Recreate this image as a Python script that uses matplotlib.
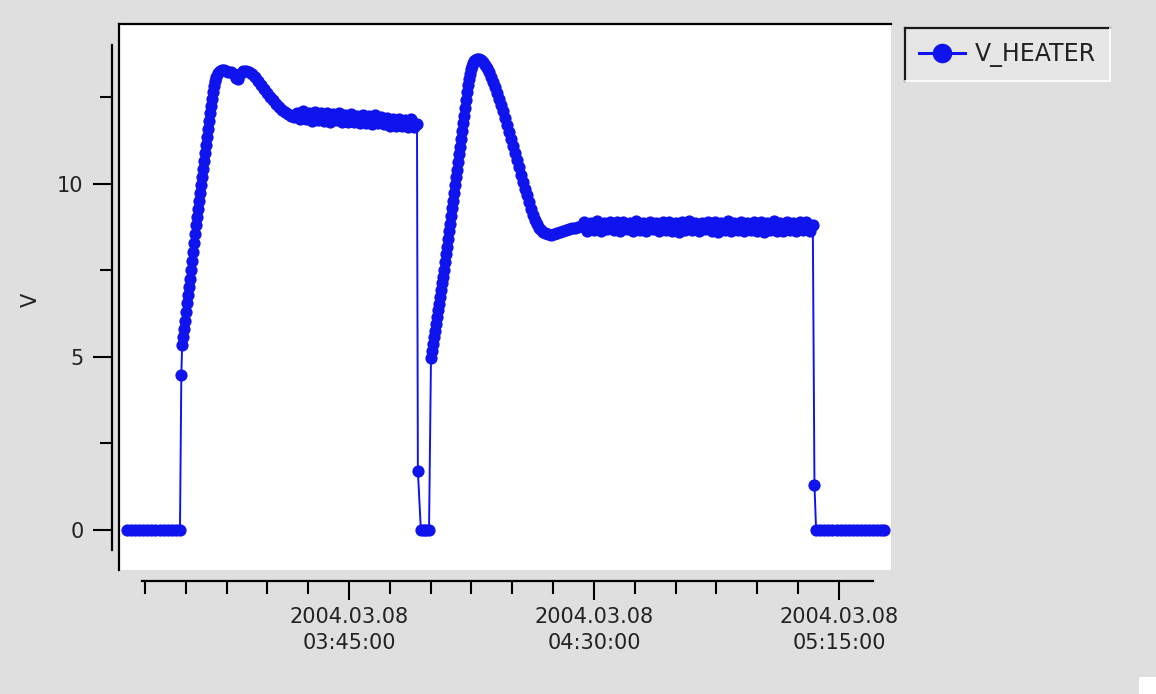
import numpy as np
import pandas as pd
import matplotlib
matplotlib.use('Agg')
import matplotlib.pyplot as plt
import matplotlib.dates as mdates
from matplotlib.lines import Line2D
from matplotlib.patches import Rectangle
from matplotlib.transforms import IdentityTransform

W, H = 1156, 694
DAY = '2004-03-08'
BLUE = '#0f14ee'

# minutes after 03:00 and heater voltage (V)
off1_min = [4.2, 4.95, 5.7, 6.45, 7.2, 7.95, 8.7, 9.45, 10.2, 10.95, 11.7, 12.45, 13.2, 13.95]
off1_v = [0, 0, 0, 0, 0, 0, 0, 0, 0, 0, 0, 0, 0, 0]

heat1_min = [14.2, 14.35, 14.51, 14.69, 14.87, 15.06, 15.24, 15.43, 15.61, 15.79, 15.98,
             16.16, 16.34, 16.53, 16.71, 16.89, 17.08, 17.26, 17.45, 17.63, 17.81,
             18.00, 18.18, 18.36, 18.55, 18.73, 18.91, 19.10, 19.28, 19.47, 19.65,
             19.83, 20.02, 20.20, 20.38, 20.57, 20.93,
             21.30, 21.67, 22.04, 22.41, 22.77, 23.33, 23.88, 24.24, 24.61, 24.98,
             25.53, 26.08, 26.63, 27.18, 27.73, 28.28, 28.84, 29.39, 29.94, 30.49,
             31.04, 31.59, 32.14, 32.69, 33.24, 33.80, 34.35, 34.90,
             35.45, 36.00, 36.55, 37.10, 37.65, 38.20, 38.75, 39.31, 39.86, 40.41,
             40.96, 41.51, 42.06, 42.61, 43.16, 43.71, 44.27, 44.82, 45.37, 45.92,
             46.47, 47.02, 47.57, 48.12, 48.67, 49.22, 49.78, 50.33, 50.88, 51.43,
             51.98, 52.53, 53.08, 53.63, 54.18, 54.74, 55.29, 55.84, 56.39, 56.94,
             57.49]
heat1_v = [4.48, 5.35, 5.58, 5.81, 6.04, 6.30, 6.56, 6.79, 7.02, 7.25, 7.51,
           7.77, 8.03, 8.29, 8.55, 8.82, 9.05, 9.28, 9.51, 9.74, 9.97,
           10.20, 10.43, 10.66, 10.90, 11.13, 11.36, 11.59, 11.82, 12.05, 12.25,
           12.46, 12.66, 12.83, 12.98, 13.09, 13.21,
           13.27, 13.29, 13.29, 13.27, 13.24, 13.24, 13.18, 13.06, 13.03, 13.18,
           13.27, 13.27, 13.24, 13.18, 13.09, 12.98, 12.86, 12.75, 12.63, 12.51,
           12.43, 12.31, 12.23, 12.14, 12.08, 12.02, 11.97, 11.94,
           12.06, 11.86, 12.10, 11.88, 12.04, 11.83, 12.09, 11.85, 12.05, 11.82,
           12.06, 11.80, 12.02, 11.84, 12.05, 11.79, 12.00, 11.78, 12.03, 11.80,
           11.97, 11.76, 12.00, 11.77, 11.95, 11.74, 11.98, 11.75, 11.93, 11.72,
           11.90, 11.68, 11.86, 11.66, 11.88, 11.66, 11.84, 11.63, 11.86, 11.64,
           11.72]

fall1_min = [57.65]
fall1_v = [1.71]

off2_min = [58.2, 58.7, 59.2, 59.7]
off2_v = [0, 0, 0, 0]

heat2_min = [60.06, 60.25, 60.43, 60.61, 60.80, 60.98, 61.16, 61.35, 61.53, 61.72,
             61.90, 62.08, 62.27, 62.45, 62.63, 62.82, 63.00, 63.19, 63.37, 63.55,
             63.74, 63.92, 64.10, 64.29, 64.47, 64.66, 64.84, 65.02, 65.21, 65.39,
             65.57, 65.76, 65.94, 66.12, 66.31, 66.49, 66.68, 66.86, 67.04, 67.23,
             67.41, 67.59, 67.78, 67.96, 68.14, 68.51,
             68.88, 69.25, 69.61, 69.98, 70.35, 70.72, 71.08, 71.45, 71.82, 72.19,
             72.55, 72.92, 73.29, 73.66, 74.02, 74.39, 74.76, 75.12, 75.49, 75.86,
             76.23, 76.59, 76.96, 77.33, 77.70, 78.06, 78.43, 78.80, 79.17, 79.53,
             79.90, 80.27, 80.64, 81.00, 81.55, 82.10, 82.65, 83.20, 83.76, 84.31,
             84.86, 85.41, 85.96, 86.51, 87.06, 87.62,
             88.2, 88.8, 89.4, 90.0, 90.6, 91.2, 91.8, 92.4, 93.0, 93.6,
             94.2, 94.8, 95.4, 96.0, 96.6, 97.2, 97.8, 98.4, 99.0, 99.6,
             100.2, 100.8, 101.4, 102.0, 102.6, 103.2, 103.8, 104.4, 105.0, 105.6,
             106.2, 106.8, 107.4, 108.0, 108.6, 109.2, 109.8, 110.4, 111.0, 111.6,
             112.2, 112.8, 113.4, 114.0, 114.6, 115.2, 115.8, 116.4, 117.0, 117.6,
             118.2, 118.8, 119.4, 120.0, 120.6, 121.2, 121.8, 122.4, 123.0, 123.6,
             124.2, 124.8, 125.4, 126.0, 126.6, 127.2, 127.8, 128.4, 129.0, 129.6,
             130.2]
heat2_v = [4.97, 5.17, 5.38, 5.58, 5.75, 5.95, 6.16, 6.36, 6.53, 6.73,
           6.94, 7.14, 7.31, 7.51, 7.75, 7.98, 8.18, 8.41, 8.64, 8.84,
           9.08, 9.31, 9.51, 9.74, 9.97, 10.20, 10.40, 10.64, 10.87, 11.07,
           11.30, 11.53, 11.76, 11.97, 12.20, 12.43, 12.66, 12.86, 13.03, 13.18,
           13.32, 13.41, 13.50, 13.55, 13.58, 13.61,
           13.61, 13.58, 13.53, 13.44, 13.35, 13.24, 13.09, 12.95, 12.80, 12.63,
           12.46, 12.28, 12.11, 11.91, 11.71, 11.50, 11.30, 11.10, 10.90, 10.69,
           10.49, 10.26, 10.06, 9.86, 9.68, 9.48, 9.28, 9.10, 8.96, 8.84,
           8.73, 8.67, 8.61, 8.58, 8.55, 8.53, 8.55, 8.58, 8.61, 8.64,
           8.67, 8.70, 8.73, 8.73, 8.76, 8.79,
           8.90, 8.65, 8.88, 8.68, 8.92, 8.64, 8.87, 8.70, 8.91, 8.66,
           8.89, 8.63, 8.90, 8.69, 8.86, 8.65, 8.92, 8.67, 8.88, 8.64,
           8.90, 8.70, 8.86, 8.63, 8.91, 8.67, 8.89, 8.65, 8.87, 8.62,
           8.90, 8.68, 8.93, 8.66, 8.88, 8.63, 8.86, 8.69, 8.91, 8.65,
           8.89, 8.62, 8.87, 8.67, 8.92, 8.64, 8.88, 8.66, 8.90, 8.63,
           8.86, 8.68, 8.91, 8.65, 8.89, 8.62, 8.87, 8.67, 8.92, 8.65,
           8.88, 8.64, 8.90, 8.66, 8.86, 8.63, 8.89, 8.68, 8.91, 8.65,
           8.80]

fall2_min = [130.5]
fall2_v = [1.30]

off3_min = [130.8, 131.55, 132.3, 133.05, 133.8, 134.55, 135.3, 136.05, 136.8,
            137.55, 138.3, 139.05, 139.8, 140.55, 141.3, 142.05, 142.8, 143.3]
off3_v = [0, 0, 0, 0, 0, 0, 0, 0, 0, 0, 0, 0, 0, 0, 0, 0, 0, 0]

x_major = ['03:45:00', '04:30:00', '05:15:00']
y_major = [0, 5, 10]
y_minor = [2.5, 7.5, 12.5]

base = pd.Timestamp(DAY + ' 03:00:00')


def at(minutes):
    return mdates.date2num(base + pd.to_timedelta(np.asarray(minutes, dtype=float), unit='m'))


minutes = np.concatenate([off1_min, heat1_min, fall1_min, off2_min,
                          heat2_min, fall2_min, off3_min])
volts = np.concatenate([off1_v, heat1_v, fall1_v, off2_v,
                        heat2_v, fall2_v, off3_v]).astype(float)

fig = plt.figure(figsize=(W / 100, H / 100), dpi=100, facecolor='#dfdfdf')
ax = fig.add_axes([119 / W, 1 - 570 / H, (891 - 119) / W, (570 - 24) / H])
ax.set_facecolor('white')

ax.plot(at(minutes), volts, color=BLUE, lw=1.4, marker='o', ms=8.8, mew=0,
        label='V_HEATER')

ax.set_xlim(at(2.75), at(144.56))
ax.set_ylim(-1.16, 14.62)

# frame: dark top / left edge of the white area, axes drawn detached
ax.spines['right'].set_visible(False)
ax.spines['top'].set_linewidth(1.6)
ax.add_line(Line2D([0, 0], [0, 1], transform=ax.transAxes, color='black',
                   lw=1.6, clip_on=False))
ax.spines['left'].set_position(('outward', 5))
ax.spines['left'].set_bounds(-0.58, 14.0)
ax.spines['left'].set_linewidth(1.6)
ax.spines['bottom'].set_position(('outward', 8))
ax.spines['bottom'].set_bounds(at(6.98), at(141.25))
ax.spines['bottom'].set_linewidth(1.6)

ax.set_yticks(y_major)
ax.set_yticks(y_minor, minor=True)
ax.set_yticklabels([str(v) for v in y_major])

xt = pd.to_datetime([DAY + ' ' + s for s in x_major])
ax.set_xticks(mdates.date2num(xt))
labels = ax.set_xticklabels([t.strftime('%Y.%m.%d\n%H:%M:%S') for t in xt])
for lbl in labels:
    lbl.set_linespacing(1.4)
minor = pd.date_range(DAY + ' 03:07:30', DAY + ' 05:15:00', freq='450s')
ax.set_xticks(mdates.date2num(minor), minor=True)

ax.tick_params(which='major', length=13.5, width=1.5, direction='out',
               labelsize=15, labelcolor='#222222')
ax.tick_params(which='minor', length=9, width=1.5, direction='out')
ax.tick_params(axis='y', which='major', pad=7)
ax.tick_params(axis='x', which='major', pad=5)

fig.text(31 / W, 1 - 300 / H, 'V', rotation=90, ha='center', va='center',
         fontsize=15, color='#222222')

leg = ax.legend(loc='upper left', bbox_to_anchor=(905 / W, 1 - 28 / H),
                bbox_transform=fig.transFigure, borderaxespad=0, frameon=True,
                fancybox=False, facecolor='#e6e6e6', edgecolor='none',
                framealpha=1, fontsize=17, handlelength=1.95,
                handletextpad=0.4, borderpad=0.6, markerscale=1.6)
for txt in leg.get_texts():
    txt.set_color('#222222')
for h in leg.legend_handles:
    h.set_linewidth(2.2)

# sunken bevel around the legend box
fig.canvas.draw()
bb = leg.get_window_extent()
idt = IdentityTransform()
fig.add_artist(Line2D([bb.x0, bb.x1], [bb.y1, bb.y1], transform=idt, color='#1a1a1a', lw=1.6))
fig.add_artist(Line2D([bb.x0, bb.x0], [bb.y0, bb.y1], transform=idt, color='#1a1a1a', lw=1.6))
fig.add_artist(Line2D([bb.x0, bb.x1], [bb.y0, bb.y0], transform=idt, color='white', lw=1.2))
fig.add_artist(Line2D([bb.x1, bb.x1], [bb.y0, bb.y1], transform=idt, color='white', lw=1.2))

fig.add_artist(Rectangle((1139 / W, 0), 17 / W, 17 / H, transform=fig.transFigure,
                         facecolor='white', edgecolor='none'))

fig.savefig('out.png', dpi=100, facecolor=fig.get_facecolor())
